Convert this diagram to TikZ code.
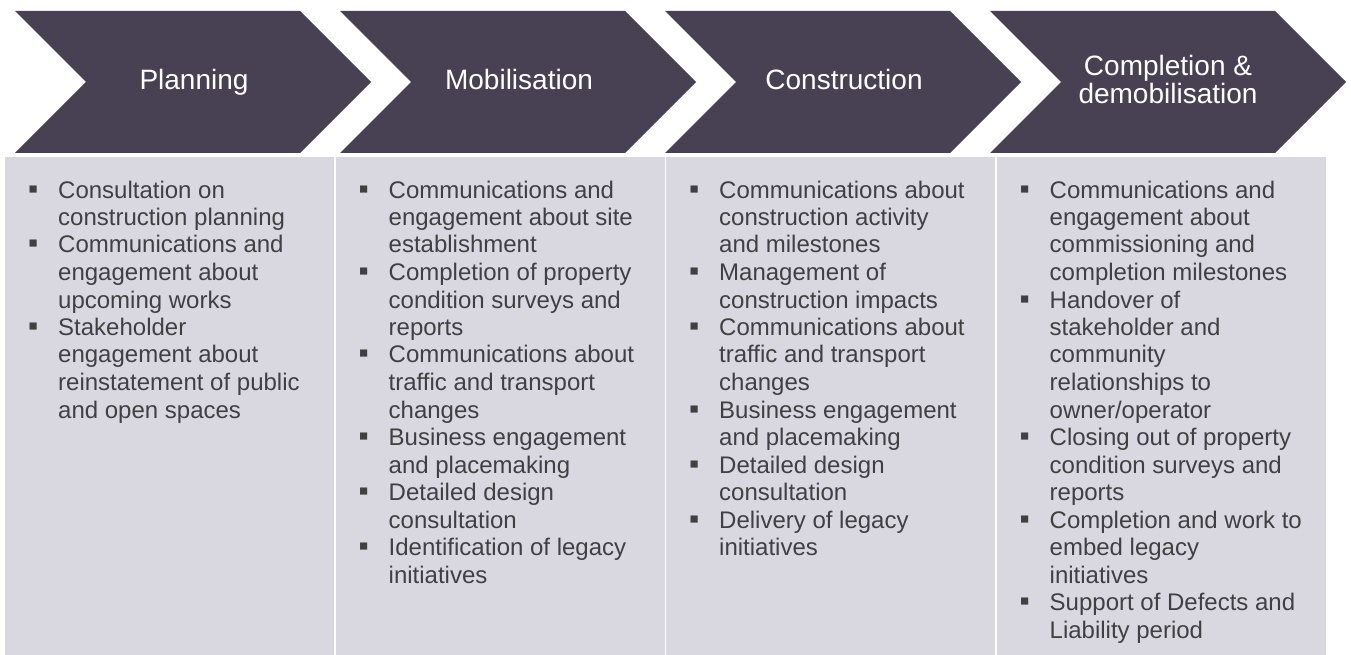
\documentclass[tikz,border=0pt]{standalone}
\usepackage{fontspec}
\setmainfont{Liberation Sans}
\usepackage{array}
\usetikzlibrary{positioning}
\definecolor{chevcolor}{RGB}{71,65,83}
\definecolor{boxcolor}{RGB}{217,216,225}
\definecolor{itemcolor}{RGB}{64,64,64}
\newcommand{\bul}{\makebox[0pt][c]{\scalebox{1.2}{▪}}}

\begin{document}
\begin{tikzpicture}[x=1pt, y=-1pt,
    chevron/.style={fill=chevcolor},
    phase/.style={anchor=base, text=white, align=center, font=\fontsize{28}{28}\selectfont},
    column/.style={fill=boxcolor},
    items/.style={anchor=base west, inner sep=0pt, text=itemcolor, font=\fontsize{24}{27.5}\selectfont},
]
    \useasboundingbox (0,0) rectangle (1351,655);

    % Phase chevrons
    \foreach \i in {0,...,3} {
        \fill[chevron] (15+325*\i,11) -- ++(285,0) -- ++(71,71) -- ++(-71,71) -- ++(-285,0) -- ++(71,-71) -- cycle;
    }
    \node[phase] (planning) at (194,89.5) {Planning};
    \node[phase] (mobilisation) at (519,89.5) {Mobilisation};
    \node[phase] (construction) at (844,89.5) {Construction};
    \node[phase] (completion) at (1168,104) {Completion \&\\demobilisation};

    % Activity columns
    \foreach \i in {0,...,3} {
        \fill[column] (5+330.5*\i,157) rectangle ++(329,498);
    }

    \node[items] (planitems) at (33,198) {\begin{tabular}[t]{@{}l@{\hspace{25pt}}l@{}}
        \bul & Consultation on\\
             & construction planning\\
        \bul & Communications and\\
             & engagement about\\
             & upcoming works\\
        \bul & Stakeholder\\
             & engagement about\\
             & reinstatement of public\\
             & and open spaces
    \end{tabular}};

    \node[items] (mobitems) at (363.5,198) {\begin{tabular}[t]{@{}l@{\hspace{25pt}}l@{}}
        \bul & Communications and\\
             & engagement about site\\
             & establishment\\
        \bul & Completion of property\\
             & condition surveys and\\
             & reports\\
        \bul & Communications about\\
             & traffic and transport\\
             & changes\\
        \bul & Business engagement\\
             & and placemaking\\
        \bul & Detailed design\\
             & consultation\\
        \bul & Identification of legacy\\
             & initiatives
    \end{tabular}};

    \node[items] (consitems) at (694,198) {\begin{tabular}[t]{@{}l@{\hspace{25pt}}l@{}}
        \bul & Communications about\\
             & construction activity\\
             & and milestones\\
        \bul & Management of\\
             & construction impacts\\
        \bul & Communications about\\
             & traffic and transport\\
             & changes\\
        \bul & Business engagement\\
             & and placemaking\\
        \bul & Detailed design\\
             & consultation\\
        \bul & Delivery of legacy\\
             & initiatives
    \end{tabular}};

    \node[items] (compitems) at (1024.5,198) {\begin{tabular}[t]{@{}l@{\hspace{25pt}}l@{}}
        \bul & Communications and\\
             & engagement about\\
             & commissioning and\\
             & completion milestones\\
        \bul & Handover of\\
             & stakeholder and\\
             & community\\
             & relationships to\\
             & owner/operator\\
        \bul & Closing out of property\\
             & condition surveys and\\
             & reports\\
        \bul & Completion and work to\\
             & embed legacy\\
             & initiatives\\
        \bul & Support of Defects and\\
             & Liability period
    \end{tabular}};
\end{tikzpicture}
\end{document}
